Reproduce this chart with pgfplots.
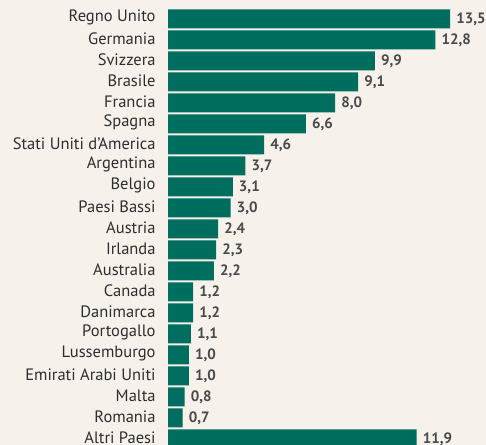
\documentclass[border=0pt]{standalone}
\usepackage{pgfplots}
\pgfplotsset{compat=1.18}
\usepackage{fontspec}
\setmainfont{PT Sans}
\definecolor{bg}{HTML}{F6F1EB}
\definecolor{bar}{HTML}{006E5E}
\definecolor{txt}{HTML}{2E2E2E}
\definecolor{val}{HTML}{4A4A4A}
\begin{document}
\begin{tikzpicture}[x=1bp,y=1bp]
\fill[bg] (0,0) rectangle (486,445);
\begin{axis}[
  at={(168bp,0bp)}, anchor=south west,
  scale only axis, width=318bp, height=445bp,
  xbar, bar width=19bp, bar shift=0pt,
  xmin=0, xmax=15.22,
  ymin=-0.9, ymax=20.29, y dir=reverse,
  axis line style={draw=none}, tick style={draw=none},
  xtick=\empty,
  ytick={0,...,20},
  yticklabels={Regno Unito,Germania,Svizzera,Brasile,Francia,Spagna,Stati Uniti d’America,Argentina,Belgio,Paesi Bassi,Austria,Irlanda,Australia,Canada,Danimarca,Portogallo,Lussemburgo,Emirati Arabi Uniti,Malta,Romania,Altri Paesi},
  yticklabel style={font=\fontsize{16.5bp}{17bp}\selectfont, text=txt, inner sep=0pt, xshift=-8bp, yshift=1.5bp},
  point meta=x,
  /pgf/number format/assume math mode=true,
  nodes near coords={\pgfmathprintnumber[fixed,fixed zerofill,precision=1,use comma,assume math mode=true]{\pgfplotspointmeta}},
  nodes near coords style={font=\bfseries\fontsize{15bp}{16bp}\selectfont, text=val, inner sep=0pt, xshift=6bp, anchor=west},
]
\addplot[fill=bar, draw=none] coordinates {
(13.5,0) (12.8,1) (9.9,2) (9.1,3) (8.0,4) (6.6,5) (4.6,6) (3.7,7) (3.1,8) (3.0,9) (2.4,10) (2.3,11) (2.2,12) (1.2,13) (1.2,14) (1.1,15) (1.0,16) (1.0,17) (0.8,18) (0.7,19) (11.9,20)
};
\end{axis}
\pgfresetboundingbox
\path[use as bounding box] (0,0) rectangle (486,445);
\end{tikzpicture}
\end{document}
